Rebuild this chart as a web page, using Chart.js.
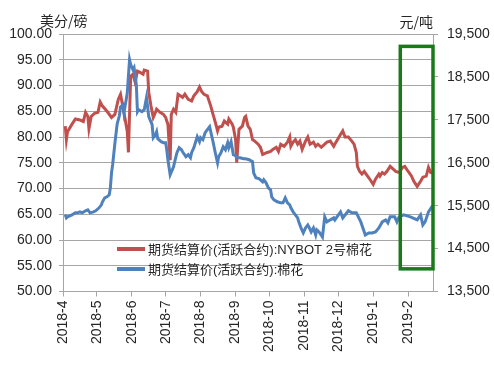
<!DOCTYPE html>
<html>
<head>
<meta charset="utf-8">
<script src="https://cdn.jsdelivr.net/npm/chart.js@4.4.1/dist/chart.umd.min.js"></script>
<style>
  html, body { margin: 0; padding: 0; background: #fff; }
  #wrap { width: 494px; height: 365px; }
</style>
</head>
<body>
<div id="wrap"><canvas id="myChart" width="494" height="365"></canvas></div>
<script>
// month ticks on the x axis
var monthLabels = ['2018-4','2018-5','2018-6','2018-7','2018-8','2018-9','2018-10','2018-11','2018-12','2019-1','2019-2'];
var startDay = Date.UTC(2018, 3, 1);
var lastDay = 328; // ~2019-02-23

// NYBOT No.2 cotton, US cents / lb (left axis); x = days since 2018-04-01
var redDays = [2,3,4,8,11,15,18,20,22,23,25,28,31,33,35,39,43,46,49,51,54,57,58,60,62,64,66,68,71,72,75,76,78,80,82,83,86,89,91,92,93,95,96,98,100,102,104,106,108,111,114,116,119,121,123,125,128,129,131,133,135,137,138,141,143,146,147,150,151,153,154,156,159,161,162,164,166,168,170,173,175,177,181,184,186,189,191,193,196,199,201,202,204,206,208,210,212,215,217,219,222,224,226,229,232,234,237,240,242,246,248,250,253,256,258,260,261,263,265,267,270,272,275,277,280,281,283,285,287,290,293,295,298,301,303,306,309,311,314,317,319,322,324,326,328];
var redVals = [82.1,79.5,81,82.5,83.5,83.3,83,84.8,84,81.6,84,84.6,84.8,86.8,86,85,83.8,84.4,87.3,88.3,84.8,81,77,91.8,92.2,90.6,92.8,92.6,92.2,93,92.8,88.7,86,83.8,84.8,85.4,84.8,84.4,83.8,83.1,82.5,75.5,84.4,85.4,84.8,88.3,88,87.7,88.3,87.3,87,88,88.8,89.7,88.8,88.3,88,87.3,86,84.4,82.9,81.2,81.9,82.1,83.1,82.5,83.5,82.5,81.9,79.5,75,81.5,82.1,83.8,84,82.1,81.5,79.5,79.2,78.6,78,76.6,77,77.2,77.6,78,77.2,78.6,78.2,79,80,78.2,79,79.5,78.6,79.2,77.6,79.2,80,78.6,79,78.2,78.6,78,78.6,79,79.2,78.2,79,80.5,81.2,80,80,79.2,78.6,77,74.3,73.3,72.8,73.3,72.4,71.8,70.8,71.8,72.8,72.4,73.1,72.8,73.3,74.3,73.7,73.3,73.1,74.1,74.3,73.3,72.4,71.4,70.4,71.4,72.2,72.4,74.1,73.1,73.1];

// Zhengzhou cotton, yuan / ton (right axis)
var blueDays = [2,3,4,8,11,13,15,17,20,22,24,27,29,32,34,35,37,39,41,42,43,44,46,48,50,51,53,54,56,57,59,60,62,63,65,66,67,70,72,74,75,76,79,80,82,83,84,87,89,91,92,93,95,98,99,101,103,105,106,109,111,113,114,116,119,121,122,124,126,128,130,131,133,135,137,138,140,142,144,146,147,149,151,153,154,157,160,162,165,168,169,171,174,177,178,180,182,184,185,187,190,193,195,197,199,201,202,204,206,208,209,211,213,215,217,218,220,222,224,225,227,230,232,234,237,240,241,246,248,253,256,260,264,268,271,274,277,280,283,286,288,290,294,296,298,302,308,314,317,319,321,324,327,328];
var blueVals = [15286,15215,15240,15286,15333,15333,15356,15333,15380,15403,15333,15356,15380,15450,15520,15590,15683,15706,15753,15916,16266,16453,16950,17400,17600,17800,17850,17667,17970,18134,18905,18788,18671,18718,18321,17690,17737,17690,17737,18017,17807,17574,17387,17083,17153,17223,17060,16990,16967,16967,16803,16570,16219,16406,16523,16733,16850,16803,16757,16640,16687,16617,16733,16850,17107,16990,17083,17037,17200,17270,17340,17223,16990,16733,16500,16640,16733,16873,16803,16967,16850,16990,16687,16663,16617,16617,16593,16593,16570,16523,16266,16150,16126,16056,16103,16033,15916,15870,15706,15636,15590,15566,15566,15683,15566,15520,15450,15356,15286,15215,15122,14982,14865,14982,15052,15005,14889,14982,14818,14935,14889,14772,15240,15122,15170,15215,15169,15356,15215,15380,15333,15333,15122,14818,14865,14865,14889,14982,15122,15169,15099,15240,15240,15122,15240,15286,15240,15169,15286,15052,15122,15356,15473,15473];

var legendNames = ['期货结算价(活跃合约):NYBOT 2号棉花', '期货结算价(活跃合约):棉花'];
var leftTicks = [50,55,60,65,70,75,80,85,90,95,100];
var rightTicks = [13500,14500,15500,16500,17500,18500,19500];

function monthDay(lbl) {
    var p = lbl.split('-');
    return Math.round((Date.UTC(+p[0], +p[1] - 1, 1) - startDay) / 86400000);
}
var monthDays = monthLabels.map(monthDay);

function pts(days, vals) {
    var out = [];
    for (var i = 0; i < days.length; i++) out.push({x: days[i], y: vals[i]});
    return out;
}

var red = '#c0504d', blue = '#4f81bd', gridCol = '#a6a6a6', txt = '#262626';
var numFont = {family: 'Liberation Sans', size: 14};

var extras = {
    id: 'extras',
    afterDraw: function(chart) {
        var c = chart.ctx, a = chart.chartArea;
        var xs = chart.scales.x, yl = chart.scales.y;
        c.save();
        c.fillStyle = txt;
        c.font = '14px "Noto Sans CJK SC"';
        c.textBaseline = 'alphabetic';
        c.textAlign = 'left';
        c.fillText('美分/磅', 40, 26);
        c.textAlign = 'right';
        c.fillText('元/吨', a.right, 27);

        // legend inside plot
        var lx = 117, ly = [249, 269];
        var cols = [red, blue];
        c.font = '13px "Liberation Sans", "Noto Sans CJK SC"';
        c.textAlign = 'left';
        c.textBaseline = 'middle';
        for (var i = 0; i < 2; i++) {
            c.strokeStyle = cols[i];
            c.lineWidth = 4;
            c.beginPath();
            c.moveTo(lx, ly[i]);
            c.lineTo(lx + 28, ly[i]);
            c.stroke();
            c.fillStyle = txt;
            c.fillText(legendNames[i], lx + 31, ly[i] + 1);
        }

        // green highlight box
        var x0 = xs.getPixelForValue(299), x1 = a.right;
        var y0 = yl.getPixelForValue(97.6), y1 = yl.getPixelForValue(54.4);
        c.strokeStyle = '#1a7a1a';
        c.lineWidth = 3.5;
        c.strokeRect(x0, y0, x1 - x0, y1 - y0);
        c.restore();
    }
};

var ctx = document.getElementById('myChart').getContext('2d');
var myChart = new Chart(ctx, {
    type: 'line',
    data: {
        datasets: [{
            label: legendNames[0],
            data: pts(redDays, redVals),
            yAxisID: 'y',
            borderColor: red,
            borderWidth: 3,
            pointRadius: 0,
            tension: 0,
            order: 1
        }, {
            label: legendNames[1],
            data: pts(blueDays, blueVals),
            yAxisID: 'y2',
            borderColor: blue,
            borderWidth: 3,
            pointRadius: 0,
            tension: 0,
            order: 0
        }]
    },
    options: {
        responsive: false,
        animation: false,
        layout: {padding: {top: 34, left: 0, right: 0, bottom: 0}},
        plugins: {legend: {display: false}, tooltip: {enabled: false}},
        scales: {
            x: {
                type: 'linear',
                min: 0,
                max: lastDay,
                afterBuildTicks: function(s) { s.ticks = monthDays.map(function(d) { return {value: d}; }); },
                afterFit: function(s) { s.height = 73.5; },
                ticks: {
                    color: txt,
                    font: numFont,
                    minRotation: 90,
                    maxRotation: 90,
                    padding: 4,
                    callback: function(v) { var i = monthDays.indexOf(v); return i < 0 ? '' : monthLabels[i]; }
                },
                grid: {drawOnChartArea: false, color: gridCol, tickLength: 5},
                border: {color: gridCol}
            },
            y: {
                position: 'left',
                min: 50,
                max: 100,
                afterBuildTicks: function(s) { s.ticks = leftTicks.map(function(v) { return {value: v}; }); },
                afterFit: function(s) { s.width = 63; },
                ticks: {color: txt, font: numFont, padding: 7, callback: function(v) { return v.toFixed(2); }},
                grid: {color: gridCol, tickLength: 4},
                border: {color: gridCol}
            },
            y2: {
                position: 'right',
                min: 13500,
                max: 19500,
                afterBuildTicks: function(s) { s.ticks = rightTicks.map(function(v) { return {value: v}; }); },
                afterFit: function(s) { s.width = 61; },
                ticks: {color: txt, font: numFont, padding: 9, callback: function(v) { return v.toLocaleString('en-US'); }},
                grid: {drawOnChartArea: false, color: gridCol, tickLength: 5},
                border: {color: gridCol}
            }
        }
    },
    plugins: [extras]
});
</script>
</body>
</html>
